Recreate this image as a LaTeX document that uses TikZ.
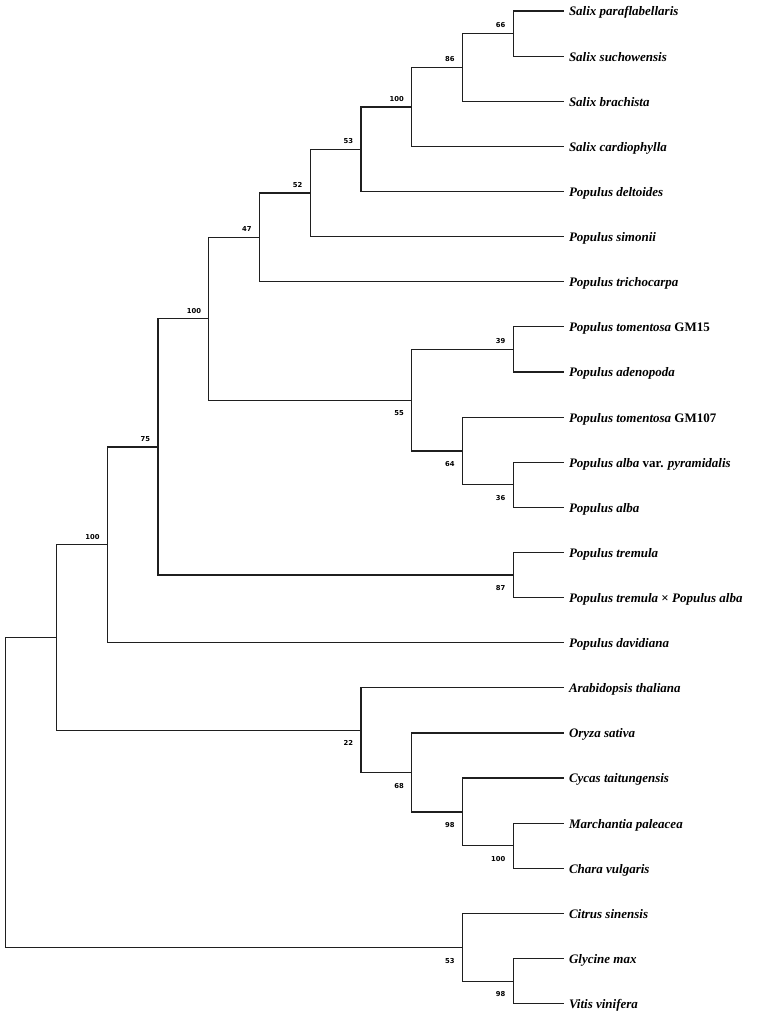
\documentclass[tikz,border=0pt]{standalone}
\usepackage{fontspec}
\usepackage{tikz}
\usetikzlibrary{calc}
\setmainfont{Liberation Serif}
\newfontfamily\bsfont{DejaVu Sans}
\colorlet{branchcolor}{black!88}
\tikzstyle{branch} = [
    draw=branchcolor,
    line width=1.2pt
    ]
\tikzstyle{leaf} = [
    anchor=west,
    inner xsep=5pt,
    inner ysep=0pt,
    text height=9.9pt,
    text depth=0pt,
    font=\bfseries\itshape\fontsize{13}{15}\selectfont
    ]
\tikzstyle{bsup} = [
    anchor=south east,
    inner sep=0pt,
    xshift=-7.5pt,
    yshift=5.5pt,
    font=\bsfont\bfseries\fontsize{6.8}{8}\selectfont
    ]
\tikzstyle{bsdown} = [
    anchor=north east,
    inner sep=0pt,
    xshift=-7.5pt,
    yshift=-10.5pt,
    font=\bsfont\bfseries\fontsize{6.8}{8}\selectfont
    ]

\begin{document}
\begin{tikzpicture}[x=1pt,y=-1pt]
\useasboundingbox (0,0) rectangle (760,1015);

% leaves
\node[leaf] (spara) at (563.8,11.0) {Salix paraflabellaris};
\node[leaf] (ssuch) at (563.8,56.1) {Salix suchowensis};
\node[leaf] (sbrac) at (563.8,101.2) {Salix brachista};
\node[leaf] (scard) at (563.8,146.4) {Salix cardiophylla};
\node[leaf] (pdelt) at (563.8,191.5) {Populus deltoides};
\node[leaf] (psimo) at (563.8,236.6) {Populus simonii};
\node[leaf] (ptric) at (563.8,281.7) {Populus trichocarpa};
\node[leaf] (ptgmA) at (563.8,326.8) {Populus tomentosa \textup{GM15}};
\node[leaf] (paden) at (563.8,372.0) {Populus adenopoda};
\node[leaf] (ptgmB) at (563.8,417.1) {Populus tomentosa \textup{GM107}};
\node[leaf] (palbp) at (563.8,462.2) {Populus alba \textup{var.} pyramidalis};
\node[leaf] (palba) at (563.8,507.3) {Populus alba};
\node[leaf] (ptrem) at (563.8,552.4) {Populus tremula};
\node[leaf] (ptxa) at (563.8,597.6) {Populus tremula \textup{×} Populus alba};
\node[leaf] (pdavi) at (563.8,642.7) {Populus davidiana};
\node[leaf] (athal) at (563.8,687.8) {Arabidopsis thaliana};
\node[leaf] (osati) at (563.8,732.9) {Oryza sativa};
\node[leaf] (ctait) at (563.8,778.0) {Cycas taitungensis};
\node[leaf] (mpale) at (563.8,823.2) {Marchantia paleacea};
\node[leaf] (cvulg) at (563.8,868.3) {Chara vulgaris};
\node[leaf] (csine) at (563.8,913.4) {Citrus sinensis};
\node[leaf] (gmax) at (563.8,958.5) {Glycine max};
\node[leaf] (vvini) at (563.8,1003.6) {Vitis vinifera};

% inner nodes
\coordinate (k66) at (513.1,33.6);
\coordinate (j86) at (462.4,67.4);
\coordinate (i100) at (411.6,106.9);
\coordinate (h53) at (360.9,149.2);
\coordinate (g52) at (310.1,192.9);
\coordinate (e47) at (259.4,237.3);
\coordinate (l39) at (513.1,349.4);
\coordinate (n36) at (513.1,484.8);
\coordinate (m64) at (462.4,451.0);
\coordinate (f55) at (411.6,400.2);
\coordinate (d100) at (208.7,318.8);
\coordinate (t87) at (513.1,575.0);
\coordinate (c75) at (157.9,446.9);
\coordinate (b100) at (107.2,544.8);
\coordinate (q100) at (513.1,845.8);
\coordinate (p98) at (462.4,811.9);
\coordinate (o68) at (411.6,772.4);
\coordinate (a22) at (360.9,730.1);
\coordinate (popl) at (56.4,637.5);
\coordinate (r98) at (513.1,981.1);
\coordinate (c53) at (462.4,947.3);
\coordinate (root) at (5.7,792.4);

% branches
\draw[branch] (k66) |- (spara.west);
\draw[branch] (k66) |- (ssuch.west);
\draw[branch] (j86) |- (k66);
\draw[branch] (j86) |- (sbrac.west);
\draw[branch] (i100) |- (j86);
\draw[branch] (i100) |- (scard.west);
\draw[branch] (h53) |- (i100);
\draw[branch] (h53) |- (pdelt.west);
\draw[branch] (g52) |- (h53);
\draw[branch] (g52) |- (psimo.west);
\draw[branch] (e47) |- (g52);
\draw[branch] (e47) |- (ptric.west);
\draw[branch] (l39) |- (ptgmA.west);
\draw[branch] (l39) |- (paden.west);
\draw[branch] (n36) |- (palbp.west);
\draw[branch] (n36) |- (palba.west);
\draw[branch] (m64) |- (ptgmB.west);
\draw[branch] (m64) |- (n36);
\draw[branch] (f55) |- (l39);
\draw[branch] (f55) |- (m64);
\draw[branch] (d100) |- (e47);
\draw[branch] (d100) |- (f55);
\draw[branch] (t87) |- (ptrem.west);
\draw[branch] (t87) |- (ptxa.west);
\draw[branch] (c75) |- (d100);
\draw[branch] (c75) |- (t87);
\draw[branch] (b100) |- (c75);
\draw[branch] (b100) |- (pdavi.west);
\draw[branch] (q100) |- (mpale.west);
\draw[branch] (q100) |- (cvulg.west);
\draw[branch] (p98) |- (ctait.west);
\draw[branch] (p98) |- (q100);
\draw[branch] (o68) |- (osati.west);
\draw[branch] (o68) |- (p98);
\draw[branch] (a22) |- (athal.west);
\draw[branch] (a22) |- (o68);
\draw[branch] (popl) |- (b100);
\draw[branch] (popl) |- (a22);
\draw[branch] (r98) |- (gmax.west);
\draw[branch] (r98) |- (vvini.west);
\draw[branch] (c53) |- (csine.west);
\draw[branch] (c53) |- (r98);
\draw[branch] (root) |- (popl);
\draw[branch] (root) |- (c53);

% bootstrap values
\node[bsup] (v66) at (k66) {66};
\node[bsup] (v86) at (j86) {86};
\node[bsup] (v100a) at (i100) {100};
\node[bsup] (v53a) at (h53) {53};
\node[bsup] (v52) at (g52) {52};
\node[bsup] (v47) at (e47) {47};
\node[bsup] (v100b) at (d100) {100};
\node[bsup] (v75) at (c75) {75};
\node[bsup] (v100c) at (b100) {100};
\node[bsup] (v39) at (l39) {39};
\node[bsdown] (v55) at (f55) {55};
\node[bsdown] (v64) at (m64) {64};
\node[bsdown] (v36) at (n36) {36};
\node[bsdown] (v87) at (t87) {87};
\node[bsdown] (v22) at (a22) {22};
\node[bsdown] (v68) at (o68) {68};
\node[bsdown] (v98a) at (p98) {98};
\node[bsdown] (v100d) at (q100) {100};
\node[bsdown] (v53b) at (c53) {53};
\node[bsdown] (v98b) at (r98) {98};
\end{tikzpicture}
\end{document}
